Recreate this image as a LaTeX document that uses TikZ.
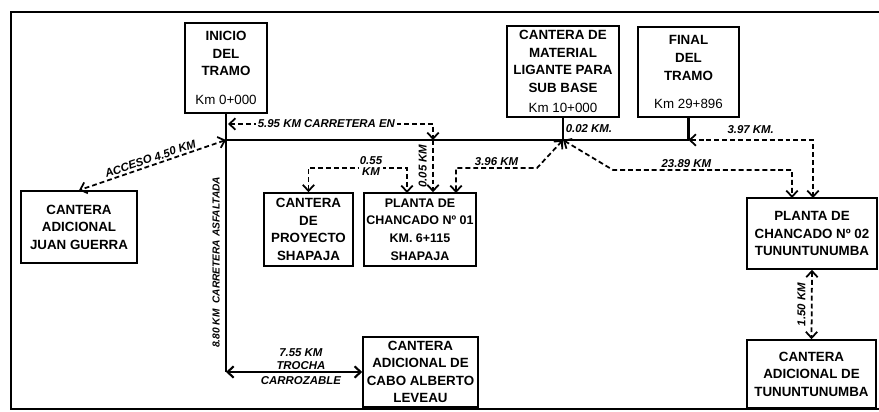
\documentclass[tikz,border=0pt]{standalone}
\usepackage{fontspec}
\setmainfont{Liberation Sans}
\usetikzlibrary{arrows.meta}

\begin{document}
\begin{tikzpicture}[x=0.02cm, y=-0.02cm,
    >={Straight Barb[length=3.5pt,width=6.5pt]},
    caja/.style={draw, line width=0.9pt, align=center, inner sep=1pt,
        font=\fontsize{7.6}{10}\selectfont\bfseries},
    dist/.style={font=\fontsize{6.5}{7.4}\selectfont\bfseries\itshape,
        inner sep=1pt, align=center},
    via/.style={line width=1.2pt},
    acc/.style={line width=1pt, dash pattern=on 2.8pt off 1.7pt, <->}]
    \useasboundingbox (0,0) rectangle (879,412);
    % marco
    \draw [line width=0.8pt] (879,12) -- (11,12) -- (11,409) -- (879,409);

    % cajas
    \node [caja, minimum width=1.64cm, minimum height=1.80cm] (ini) at (226,68)
        {INICIO\\DEL\\TRAMO\\[0.22cm]{\mdseries Km 0+000}};
    \node [caja, minimum width=2.24cm, minimum height=1.82cm] (mat) at (563,71.5)
        {CANTERA DE\\MATERIAL\\LIGANTE PARA\\SUB BASE\\[0.05cm]{\mdseries Km 10+000}};
    \node [caja, minimum width=2.02cm, minimum height=1.80cm] (fin) at (688.5,72)
        {FINAL\\DEL\\TRAMO\\[0.21cm]{\mdseries Km 29+896}};
    \node [caja, minimum width=2.32cm, minimum height=1.44cm] (jg) at (79,227)
        {CANTERA\\ADICIONAL\\JUAN GUERRA};
    \node [caja, minimum width=1.78cm, minimum height=1.46cm] (cp) at (308.5,229.5)
        {CANTERA\\DE\\PROYECTO\\SHAPAJA};
    \node [caja, minimum width=2.24cm, minimum height=1.46cm,
        font=\fontsize{7.1}{10}\selectfont\bfseries] (p1) at (420,229.5)
        {PLANTA DE\\CHANCADO Nº 01\\KM. 6+115\\SHAPAJA};
    \node [caja, minimum width=2.60cm, minimum height=1.42cm] (p2) at (812,233.5)
        {PLANTA DE\\CHANCADO Nº 02\\TUNUNTUNUMBA};
    \node [caja, minimum width=2.58cm, minimum height=1.36cm] (ct) at (811.5,374)
        {CANTERA\\ADICIONAL DE\\TUNUNTUNUMBA};
    \node [caja, minimum width=2.30cm, minimum height=1.40cm] (cab) at (420.5,372)
        {CANTERA\\ADICIONAL DE\\CABO ALBERTO\\LEVEAU};

    % via principal
    \coordinate (J0) at (226,140);
    \coordinate (Jk) at (433,140);
    \coordinate (Jm) at (563,140);
    \coordinate (Jf) at (688.5,140);
    \coordinate (esq) at (226,372);
    \draw [via] (J0) -- (Jf);
    \draw [via] (mat.south) -- node [dist, right] {0.02 KM.} (Jm);
    \draw [via] (fin.south) -- (Jf);
    \draw [via] (ini.south) -- node [dist, rotate=90, above=2pt, pos=0.575,
        font=\fontsize{5.8}{7}\selectfont\bfseries\itshape]
        {8.80 KM\ \ CARRETERA ASFALTADA} (esq);
    \draw [via, <->] (esq) -- node [dist, pos=0.55, yshift=3pt]
        {7.55 KM\\TROCHA\\[1pt]CARROZABLE} (cab.west);

    % accesos
    \draw [acc] (J0) -- node [dist, sloped, above] {ACCESO 4.50 KM} (jg.north);
    \coordinate (a1) at (228,124);
    \coordinate (a2) at (433,124);
    \draw [acc] (a1) -- node [dist, fill=white, pos=0.48] {5.95 KM CARRETERA EN} (a2) -- (Jk);
    \draw [acc, ->] (Jk) -- node [dist, rotate=90, above=2pt] {0.05 KM} (Jk |- p1.north);

    \coordinate (b1) at (308.5,168);
    \coordinate (b2) at (407,168);
    \coordinate (p1a) at (407,193);
    \draw [acc] (cp.north) -- (b1) -- (b2) -- (p1a);
    \node [dist, fill=white, inner sep=0.5pt] (l055) at (371,166) {0.55\\[-1pt]KM};

    \coordinate (c1) at (537,168);
    \coordinate (c2) at (456,168);
    \coordinate (p1b) at (456,193);
    \draw [acc] (Jm) -- (c1) -- node [dist, above] {3.96 KM} (c2) -- (p1b);

    \coordinate (d1) at (613,170);
    \coordinate (d2) at (792,170);
    \coordinate (p2a) at (792,198);
    \draw [acc] (Jm) -- (d1) -- node [dist, above, pos=0.41] {23.89 KM} (d2) -- (p2a);

    \coordinate (e1) at (813,140);
    \coordinate (p2b) at (813,198);
    \draw [acc] (Jf) -- node [dist, above=2pt] {3.97 KM.} (e1) -- (p2b);

    \draw [acc] (p2.south) -- node [dist, rotate=90, above=2pt] {1.50 KM} (ct.north);
\end{tikzpicture}
\end{document}
